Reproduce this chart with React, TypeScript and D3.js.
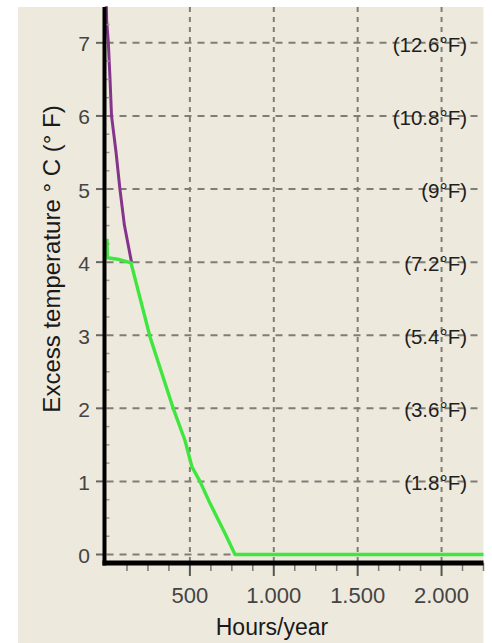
import React from "react";
import * as d3 from "d3";

const yTicks = [0, 1, 2, 3, 4, 5, 6, 7];
const fLabels = ["", "(1.8°F)", "(3.6°F)", "(5.4°F)", "(7.2°F)", "(9°F)", "(10.8°F)", "(12.6°F)"];
const xMajor = [500, 1000, 1500, 2000];
const xMajorLabels = ["500", "1.000", "1.500", "2.000"];
const xMinor = [125, 250, 375, 625, 750, 875, 1125, 1250, 1375, 1625, 1750, 1875, 2125, 2250];

const purpleHours = [2, 4, 14, 24, 33, 60, 83, 110, 152];
const purpleTemp = [7.5, 7.3, 7.0, 6.5, 6.0, 5.5, 5.0, 4.5, 4.0];

const greenHours = [6, 8, 70, 149, 262, 399, 471, 512, 560, 620, 709, 769, 2250];
const greenTemp = [4.32, 4.06, 4.04, 3.99, 2.98, 2.01, 1.56, 1.2, 1.0, 0.7, 0.29, 0.0, 0.0];

export default function App() {
  const x = d3.scaleLinear().domain([0, 2250]).range([106, 483.5]);
  const y = d3.scaleLinear().domain([0, 7.5]).range([554.5, 6.3]);
  const line = d3
    .line<[number, number]>()
    .x((d) => x(d[0]))
    .y((d) => y(d[1]));
  const purple = purpleHours.map((h, i) => [h, purpleTemp[i]] as [number, number]);
  const green = greenHours.map((h, i) => [h, greenTemp[i]] as [number, number]);
  const font = "'Liberation Sans', Arial, sans-serif";
  const axisX = 104.5;
  const axisY = 563;
  const yMinor = d3.range(0.25, 7.5, 0.25).filter((v) => Math.abs(v - Math.round(v)) > 0.01);

  return (
    <svg width={492} height={643} style={{ position: "absolute", left: 0, top: 0 }} fontFamily={font}>
      <rect x={0} y={0} width={492} height={643} fill="#ffffff" />
      <rect x={18} y={7} width={465.5} height={636} fill="#eee9dd" />
      {yTicks.map((t) => (
        <line key={"hg" + t} x1={axisX + 2} x2={483.5} y1={y(t)} y2={y(t)} stroke="#7f7d76" strokeWidth={2} strokeDasharray="7,6" />
      ))}
      {xMajor.map((t) => (
        <line key={"vg" + t} x1={x(t)} x2={x(t)} y1={7} y2={axisY} stroke="#7f7d76" strokeWidth={2} strokeDasharray="5,5" />
      ))}
      {yTicks.map((t, i) =>
        fLabels[i] ? (
          <text key={"f" + t} x={467} y={y(t) + 1.5} textAnchor="end" dominantBaseline="central" fontSize={20.5} fill="#1e1e1e">
            {fLabels[i]}
          </text>
        ) : null
      )}
      <path d={line(purple) || ""} fill="none" stroke="#84348a" strokeWidth={3} strokeLinejoin="round" />
      <path d={line(green) || ""} fill="none" stroke="#3ee63e" strokeWidth={3.4} strokeLinejoin="round" />
      {yTicks.map((t) => (
        <line key={"yt" + t} x1={96} x2={axisX} y1={y(t)} y2={y(t)} stroke="#666" strokeWidth={2} />
      ))}
      {yMinor.map((t) => (
        <line key={"ym" + t} x1={axisX} x2={axisX + 5} y1={y(t)} y2={y(t)} stroke="#999" strokeWidth={1.5} />
      ))}
      {yTicks.map((t) => (
        <text key={"yl" + t} x={90} y={y(t) + 1} textAnchor="end" dominantBaseline="central" fontSize={21} fill="#444">
          {t}
        </text>
      ))}
      {xMajor.map((t) => (
        <line key={"xt" + t} x1={x(t)} x2={x(t)} y1={axisY} y2={576} stroke="#555" strokeWidth={2} />
      ))}
      {xMinor.map((t) => (
        <line key={"xm" + t} x1={x(t)} x2={x(t)} y1={axisY} y2={571} stroke="#777" strokeWidth={1.5} />
      ))}
      {xMajorLabels.map((lab, i) => (
        <text key={"xl" + lab} x={x(xMajor[i])} y={603} textAnchor="middle" fontSize={22} fill="#444">
          {lab}
        </text>
      ))}
      <line x1={axisX} x2={axisX} y1={7} y2={axisY + 2.5} stroke="#000" strokeWidth={4} />
      <line x1={axisX - 2} x2={483.5} y1={axisY} y2={axisY} stroke="#000" strokeWidth={5} />
      <text x={272} y={635} textAnchor="middle" fontSize={23} fill="#1a1a1a">
        Hours/year
      </text>
      <text transform="translate(60,259) rotate(-90)" textAnchor="middle" fontSize={24} fill="#1a1a1a">
        Excess temperature ° C (° F)
      </text>
    </svg>
  );
}
